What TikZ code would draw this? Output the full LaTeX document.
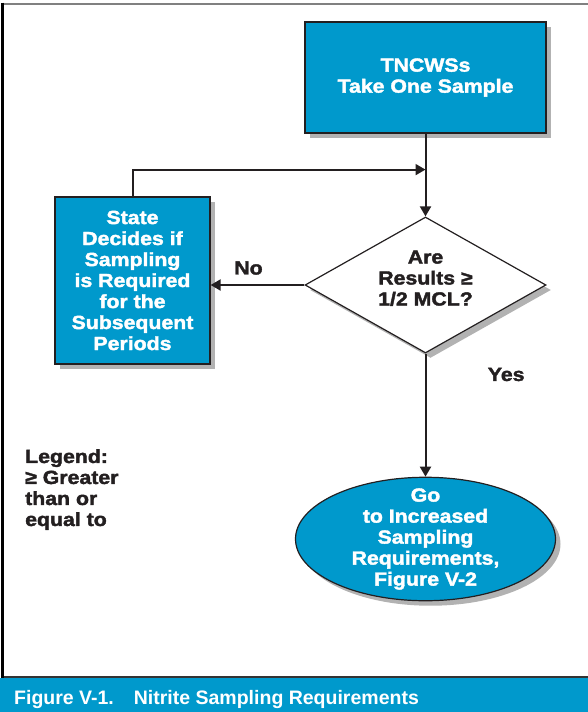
\documentclass[tikz,border=0pt]{standalone}
\usepackage{fontspec}
\setmainfont{Liberation Sans}
\newfontfamily\blackfont[FakeStretch=1.12,FakeBold=2]{Liberation Sans Bold}
\usetikzlibrary{arrows.meta,shapes.geometric,shadows}
\definecolor{fcblue}{RGB}{0,153,204}
\definecolor{fcink}{RGB}{35,31,32}
\newcommand{\fcfont}{\blackfont\fontsize{19}{21}\selectfont}
\tikzset{
  fcshadow/.style={drop shadow={shadow xshift=5pt,shadow yshift=-5pt,fill=black,opacity=.3}},
  fcblock/.style={draw=fcink, rectangle, line width=1.2pt, fill=fcblue, text=white, font=\fcfont, align=center, fcshadow},
  fcdecision/.style={draw=fcink, diamond, aspect=1.77, inner sep=0pt, line width=1.2pt, fill=white, text=fcink, font=\fcfont, align=center, fcshadow},
  fcterm/.style={fcblock, ellipse, inner xsep=0pt, inner ysep=-7pt},
  fcline/.style={draw=fcink, line width=2pt, >={Triangle[length=10pt,width=11pt]}},
  fcword/.style={font=\fcfont, text=fcink}
}

\begin{document}
\begin{tikzpicture}[x=1pt,y=-1pt]
    \useasboundingbox (0,0) rectangle (588,712);
    \fill[fcblue] (0,677.5) rectangle (588,712);
    \draw[black!50, line width=2pt] (2,3.5) -- (588,3.5);
    \draw[black!80, line width=2pt] (2,676.5) -- (588,676.5);
    \draw[black, line width=3pt] (2.5,2.5) -- (2.5,677.5);
    \node[anchor=base west, text=white, font=\bfseries\fontsize{19.5}{21}\selectfont, inner sep=0pt] (caption) at (14,704) {Figure V-1.\hspace*{20pt}Nitrite Sampling Requirements};

    \node[fcblock, minimum width=241pt, minimum height=111pt] (tncws) at (425.5,77.5) {TNCWSs\\Take One Sample};
    \node[fcdecision, minimum width=241pt, minimum height=136pt, text depth=14pt] (decide) at (425.5,285) {Are\\Results ≥\\1/2 MCL?};
    \node[fcblock, minimum width=155pt, minimum height=167pt] (state) at (132.5,280.5) {State\\Decides if\\Sampling\\is Required\\for the\\Subsequent\\Periods};
    \node[fcterm, minimum width=260pt] (increase) at (425.5,539) {Go\\to Increased\\Sampling\\Requirements,\\Figure V-2};
    \node[fcword, anchor=north west, align=left, inner sep=0pt] (legend) at (25,449) {Legend:\\≥ Greater\\than or\\equal to};
    \coordinate (merge) at ([yshift=-36pt]tncws.south);

    \draw[fcline,->] (tncws) -- (decide);
    \draw[fcline,->] (state.north) |- (merge);
    \draw[fcline,->] (decide.west) -- (decide.west -| state.east) node[fcword, midway, above=6pt, xshift=-9pt]{No};
    \draw[fcline,->] (decide) -- (increase) node[fcword, pos=.17, right=58pt]{Yes};
\end{tikzpicture}
\end{document}
